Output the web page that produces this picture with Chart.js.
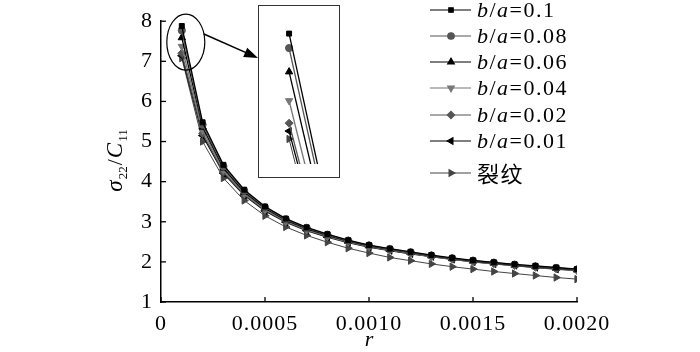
<!DOCTYPE html>
<html><head><meta charset="utf-8">
<script src="https://cdn.jsdelivr.net/npm/chart.js@4.4.1/dist/chart.umd.min.js"></script>
<style>
html,body{margin:0;padding:0;background:#fff}
#wrap{position:relative;width:700px;height:352px}
#inset{position:absolute;left:258px;top:5px;width:80px;height:171px;border:1.5px solid #333;background:#fff}
</style></head>
<body><div id="wrap"><canvas id="c" width="700" height="352"></canvas>
<div id="inset"><canvas id="c2" width="80" height="171"></canvas></div></div>
<script>
const rValues=[0.0001,0.0002,0.0003,0.0004,0.0005,0.0006,0.0007,0.0008,0.0009,0.0010,0.0011,0.0012,0.0013,0.0014,0.0015,0.0016,0.0017,0.0018,0.0019,0.0020];
const ba010=[7.88,5.48,4.42,3.80,3.38,3.08,2.86,2.69,2.54,2.42,2.33,2.25,2.17,2.10,2.04,1.99,1.94,1.90,1.86,1.82];
const ba008=[7.77,5.42,4.38,3.77,3.36,3.06,2.85,2.68,2.53,2.41,2.32,2.24,2.16,2.09,2.03,1.98,1.93,1.89,1.85,1.81];
const ba006=[7.59,5.36,4.34,3.74,3.34,3.04,2.83,2.66,2.52,2.40,2.31,2.23,2.15,2.08,2.02,1.97,1.92,1.88,1.84,1.80];
const ba004=[7.37,5.28,4.29,3.71,3.31,3.02,2.81,2.64,2.50,2.39,2.30,2.22,2.14,2.07,2.01,1.96,1.92,1.87,1.83,1.79];
const ba002=[7.20,5.20,4.24,3.68,3.29,3.00,2.79,2.63,2.49,2.38,2.29,2.21,2.13,2.07,2.01,1.96,1.91,1.87,1.83,1.79];
const ba001=[7.14,5.15,4.21,3.66,3.27,2.99,2.78,2.62,2.48,2.37,2.28,2.20,2.13,2.06,2.00,1.95,1.91,1.86,1.82,1.78];
const crack=[7.08,5.00,4.09,3.53,3.15,2.87,2.66,2.49,2.34,2.22,2.11,2.03,1.95,1.88,1.82,1.76,1.71,1.66,1.61,1.57];
const seriesLabels=['b/a=0.1','b/a=0.08','b/a=0.06','b/a=0.04','b/a=0.02','b/a=0.01','裂纹'];
const xTicks=[0,0.0005,0.0010,0.0015,0.0020];
const yTicks=[1,2,3,4,5,6,7,8];

const seriesValues=[ba010,ba008,ba006,ba004,ba002,ba001,crack];
const styles=[
 {c:'#000',p:'rect',rot:0,r:3.5,w:1.3},
 {c:'#555',p:'circle',rot:0,r:3.6,w:1.3},
 {c:'#000',p:'triangle',rot:0,r:4.2,w:1.3},
 {c:'#777',p:'triangle',rot:180,r:4.2,w:1.3},
 {c:'#555',p:'rectRot',rot:0,r:4,w:1.3},
 {c:'#000',p:'triangle',rot:-90,r:4.2,w:1.3},
 {c:'#444',p:'triangle',rot:90,r:4.2,w:1.0}
];
function makeDatasets(){
 return seriesValues.map((vals,i)=>({
  label:seriesLabels[i],
  data:vals.map((v,k)=>({x:rValues[k],y:v})),
  borderColor:styles[i].c,backgroundColor:styles[i].c,
  borderWidth:styles[i].w,pointStyle:styles[i].p,pointRotation:styles[i].rot,
  pointRadius:styles[i].r,pointBorderWidth:1,tension:0,fill:false
 }));
}
const FONT='"Liberation Serif","Times New Roman",serif';

const decor={
 id:'decor',
 beforeDraw(chart){chart.ctx.letterSpacing='1px';},
 afterDraw(chart){
  const ctx=chart.ctx, xs=chart.scales.x, ys=chart.scales.y;
  ctx.save();
  ctx.letterSpacing='0px';
  ctx.strokeStyle='#000';ctx.lineWidth=1.3;
  xTicks.forEach(v=>{const px=xs.getPixelForValue(v);ctx.beginPath();ctx.moveTo(px,ys.bottom);ctx.lineTo(px,ys.bottom-5);ctx.stroke();});
  yTicks.forEach(v=>{const py=ys.getPixelForValue(v);ctx.beginPath();ctx.moveTo(xs.left,py);ctx.lineTo(xs.left+5,py);ctx.stroke();});
  const first=seriesValues.map(s=>s[0]);
  const cx=xs.getPixelForValue(rValues[0])+4;
  const cy=(ys.getPixelForValue(Math.max(...first))+ys.getPixelForValue(Math.min(...first)))/2;
  ctx.lineWidth=1.2;
  ctx.beginPath();ctx.ellipse(cx,cy,19,28,0,0,Math.PI*2);ctx.stroke();
  const sx=cx+18, sy=cy-8, ex=258, ey=58;
  ctx.lineWidth=1.5;
  ctx.beginPath();ctx.moveTo(sx,sy);ctx.lineTo(ex-8,ey-3.6);ctx.stroke();
  const ang=Math.atan2(ey-sy,ex-sx);
  ctx.fillStyle='#000';ctx.beginPath();ctx.moveTo(ex,ey);
  ctx.lineTo(ex-14*Math.cos(ang)+5*Math.sin(ang),ey-14*Math.sin(ang)-5*Math.cos(ang));
  ctx.lineTo(ex-14*Math.cos(ang)-5*Math.sin(ang),ey-14*Math.sin(ang)+5*Math.cos(ang));
  ctx.closePath();ctx.fill();
  const ly=[10,36,62,88,115,141,173];
  chart.data.datasets.forEach((ds,i)=>{
   const y=ly[i];
   ctx.strokeStyle=ds.borderColor;ctx.lineWidth=1.1;
   ctx.beginPath();ctx.moveTo(430,y);ctx.lineTo(471,y);ctx.stroke();
   ctx.fillStyle=ds.backgroundColor;ctx.strokeStyle=ds.borderColor;
   Chart.helpers.drawPoint(ctx,{pointStyle:ds.pointStyle,rotation:ds.pointRotation,radius:ds.pointRadius-0.3,borderWidth:1},451,y);
   let x=477;ctx.fillStyle='#000';ctx.textBaseline='middle';ctx.textAlign='left';
   ctx.letterSpacing='1.5px';
   for(const ch of ds.label){
    if(/[\u4e00-\u9fff]/.test(ch)){ctx.font='22px "Noto Sans CJK SC",sans-serif';}
    else if(/[a-z]/.test(ch)){ctx.font='italic 22px '+FONT;}
    else ctx.font='22px '+FONT;
    ctx.fillText(ch,x,y+1);x+=ctx.measureText(ch).width;
   }
  });
  ctx.letterSpacing='0px';
  ctx.font='italic 22px '+FONT;ctx.textAlign='center';ctx.textBaseline='middle';
  ctx.fillText('r',(xs.left+xs.right)/2,340);
  ctx.translate(114,160);ctx.rotate(-Math.PI/2);
  const parts=[['σ','italic 23px '+FONT,0],['22','13px '+FONT,5],['/','22px '+FONT,0],['C','italic 23px '+FONT,0],['11','13px '+FONT,5]];
  let tw=0;parts.forEach(p=>{ctx.font=p[1];tw+=ctx.measureText(p[0]).width+1;});
  let tx=-tw/2;ctx.textAlign='left';ctx.textBaseline='alphabetic';
  parts.forEach(p=>{ctx.font=p[1];ctx.fillText(p[0],tx,8+p[2]);tx+=ctx.measureText(p[0]).width+1;});
  ctx.restore();
 }
};

new Chart(document.getElementById('c'),{
 type:'line',
 data:{datasets:makeDatasets()},
 options:{
  responsive:false,animation:false,
  layout:{padding:{left:0,right:123,top:17,bottom:0}},
  plugins:{legend:{display:false},tooltip:{enabled:false}},
  scales:{
   x:{type:'linear',min:0,max:0.002,
      afterFit(s){s.height=50;},
      afterBuildTicks(s){s.ticks=xTicks.map(v=>({value:v}));},
      grid:{display:false,drawTicks:false},
      border:{display:true,color:'#000',width:1.5},
      ticks:{padding:9,color:'#000',font:{family:FONT,size:22},maxRotation:0,autoSkip:false,
        callback:v=>v===0?'0':v.toFixed(4)}},
   y:{min:1,max:8,
      afterFit(s){s.width=161;},
      afterBuildTicks(s){s.ticks=yTicks.map(v=>({value:v}));},
      grid:{display:false,drawTicks:false},
      border:{display:true,color:'#000',width:1.5},
      ticks:{padding:8,color:'#000',font:{family:FONT,size:22}}}
  }
 },
 plugins:[decor]
});

new Chart(document.getElementById('c2'),{
 type:'line',
 data:{datasets:makeDatasets()},
 options:{
  responsive:false,animation:false,
  layout:{padding:{left:0,right:0,top:0,bottom:13}},
  plugins:{legend:{display:false},tooltip:{enabled:false}},
  scales:{
   x:{type:'linear',display:false,min:0.0000638,max:0.000165},
   y:{display:false,min:6.89,max:8.05}
  }
 }
});
</script></body></html>
